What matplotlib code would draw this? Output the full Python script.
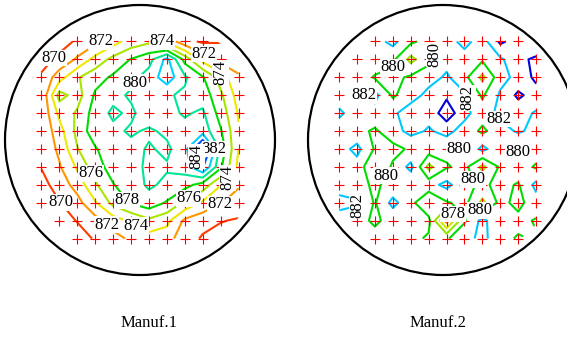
import numpy as np
import matplotlib
matplotlib.use("Agg")
import matplotlib.pyplot as plt
from matplotlib.patches import Circle

plt.rcParams['font.family'] = 'Liberation Serif'

# site readings on a 12 x 12 grid, top row first, left to right
manuf1 = np.array([
    [867.9, 869.1, 870.3, 871.4, 873.2, 874.8, 875.6, 873.4, 870.6, 869.7, 869.9, 870.2],
    [869.2, 870.5, 872.3, 874.7, 876.6, 878.1, 879.3, 882.6, 877.3, 873.2, 871.1, 870.8],
    [870.3, 873.1, 875.8, 877.2, 878.3, 879.4, 880.8, 883.2, 880.3, 878.2, 875.1, 872.3],
    [870.2, 876.8, 875.1, 878.3, 879.4, 880.3, 880.6, 880.2, 879.7, 879.2, 876.4, 873.1],
    [870.4, 874.5, 876.3, 878.9, 880.4, 879.6, 881.2, 880.5, 879.8, 880.3, 877.2, 873.8],
    [870.3, 873.2, 876.6, 879.2, 879.5, 880.3, 879.7, 880.4, 880.6, 881.1, 878.2, 874.2],
    [870.5, 872.4, 875.9, 877.8, 879.3, 879.4, 880.2, 879.6, 881.3, 887.0, 879.3, 874.0],
    [870.1, 871.8, 874.3, 877.2, 878.8, 879.3, 880.4, 880.2, 881.0, 884.2, 878.4, 873.4],
    [869.3, 870.9, 872.8, 875.7, 877.9, 879.1, 880.3, 879.6, 878.7, 877.2, 874.1, 872.2],
    [868.8, 869.9, 871.3, 873.8, 876.6, 878.2, 879.2, 877.8, 875.6, 873.7, 872.1, 871.2],
    [868.2, 869.1, 870.1, 871.3, 873.1, 874.3, 875.6, 874.6, 871.6, 870.6, 870.1, 869.8],
    [867.9, 868.4, 869.1, 870.2, 871.2, 872.4, 873.1, 872.8, 870.8, 869.8, 869.3, 869.1],
])

manuf2 = np.array([
    [879.6, 880.3, 881.2, 882.6, 880.4, 879.3, 881.2, 882.6, 881.1, 884.4, 883.1, 881.2],
    [879.7, 880.6, 881.3, 880.4, 877.4, 879.4, 881.3, 881.2, 880.3, 881.7, 883.2, 884.6],
    [880.6, 881.2, 879.8, 879.5, 880.3, 881.2, 882.3, 880.6, 877.5, 881.3, 882.6, 884.5],
    [881.2, 881.6, 882.6, 879.7, 881.1, 882.6, 883.6, 882.3, 879.7, 882.3, 884.4, 883.1],
    [882.3, 881.2, 881.3, 881.6, 883.1, 882.6, 885.2, 882.6, 880.9, 882.6, 882.7, 881.8],
    [881.2, 880.6, 879.7, 881.2, 882.6, 881.8, 882.6, 881.2, 879.6, 881.1, 882.3, 881.4],
    [881.1, 882.6, 879.8, 879.4, 880.3, 881.2, 880.6, 879.7, 882.6, 880.6, 879.7, 881.2],
    [880.6, 881.2, 878.1, 880.3, 882.6, 877.4, 879.8, 880.6, 877.5, 880.3, 881.2, 879.7],
    [881.2, 880.6, 879.7, 880.6, 880.2, 881.2, 882.6, 880.6, 879.6, 880.6, 879.8, 882.6],
    [882.6, 882.3, 879.8, 882.6, 880.6, 878.1, 879.8, 880.6, 877.5, 880.6, 879.4, 881.2],
    [881.2, 880.6, 879.7, 880.6, 880.3, 880.6, 873.2, 879.8, 882.6, 880.3, 880.6, 879.8],
    [879.8, 880.2, 880.6, 881.2, 880.6, 879.7, 879.8, 881.2, 882.6, 880.6, 879.8, 880.2],
])

levels = np.arange(866, 892, 2)

# line colour per level, each wafer on its own scale
colors1 = {866: '#b00000', 868: '#e00000', 870: '#ff3c00', 872: '#ff9600', 874: '#f0e800',
           876: '#a8e600', 878: '#00dc00', 880: '#00e696', 882: '#00d2ff', 884: '#0050ff',
           886: '#0000c8', 888: '#000090', 890: '#000060'}
colors2 = {872: '#ff4000', 874: '#ff8c00', 876: '#dce600', 878: '#96e600', 880: '#00dc00',
           882: '#00c8ff', 884: '#0000dc', 886: '#000090'}

# contour label spots: (level, x, y, rotation) in wafer units
labels1 = [(870, -0.52, 0.48, 0), (872, -0.07, 0.65, 0), (874, 0.11, 0.67, 0),
           (880, -0.09, 0.46, 0), (872, 0.46, 0.61, 0), (874, 0.64, 0.56, 90),
           (882, 0.56, -0.06, 0), (884, 0.36, -0.15, 90), (874, 0.67, -0.30, 90),
           (876, -0.52, -0.33, 0), (878, -0.09, -0.44, 0), (870, -0.67, -0.52, 0),
           (872, -0.27, -0.65, 0), (874, -0.04, -0.65, 0), (876, 0.39, -0.49, 0),
           (872, 0.59, -0.47, 0)]
labels2 = [(880, -0.33, 0.52, 0), (882, -0.64, 0.28, 0), (880, 0.01, 0.63, 90),
           (882, 0.13, 0.30, 90), (882, 0.42, 0.16, 0), (880, 0.05, -0.02, 0),
           (880, 0.53, -0.13, 0), (880, -0.34, -0.31, 0), (880, 0.13, -0.33, 0),
           (880, 0.27, -0.53, 0), (878, 0.04, -0.58, 0), (882, -0.54, -0.63, 90)]


def draw_wafer(ax, z, xs, ys, colors, labels):
    X, Y = np.meshgrid(xs, ys)
    clip = Circle((0, 0), 0.93, transform=ax.transData)
    # one contour set per level so manual labels land on the right level
    for lev in levels:
        if not (z.min() < lev < z.max()):
            continue
        cs = ax.contour(X, Y, z, levels=[lev], colors=[colors[lev]], linewidths=1.5)
        cs.set_clip_path(clip)
        spots = [(x, y) for l, x, y, r in labels if l == lev]
        rots = [r for l, x, y, r in labels if l == lev]
        if spots:
            cs.clabel(manual=spots, inline=False, fontsize=12, fmt='%d')
            for t, r in zip(cs.labelTexts, rots):
                t.set_rotation(r)
                t.set_color('black')
                t.set_bbox(dict(fc='white', ec='none', pad=0.2))
                t.set_zorder(5)
    inside = X**2 + Y**2 < 0.93**2
    ax.plot(X[inside], Y[inside], '+', color='red', ms=6.5, mew=0.8, zorder=4)
    ax.add_patch(Circle((0, 0), 1.0, fill=False, ec='black', lw=1.6, clip_on=False))
    ax.set_xlim(-1, 1)
    ax.set_ylim(-1, 1)
    ax.set_aspect('equal')
    ax.axis('off')


W, H = 567, 338
fig = plt.figure(figsize=(W / 100, H / 100), dpi=100)
ax1 = fig.add_axes([5 / W, 63 / H, 270 / W, 270 / H])
ax2 = fig.add_axes([308 / W, 63 / H, 270 / W, 270 / H])

grid = np.linspace(-0.73, 0.73, 12)
draw_wafer(ax1, manuf1, grid, grid[::-1], colors1, labels1)
draw_wafer(ax2, manuf2, grid - 0.04, grid[::-1], colors2, labels2)

fig.text(149 / W, 1 - 323 / H, 'Manuf.1', ha='center', va='center', fontsize=12)
fig.text(438 / W, 1 - 323 / H, 'Manuf.2', ha='center', va='center', fontsize=12)

fig.savefig('out.png', dpi=100)
